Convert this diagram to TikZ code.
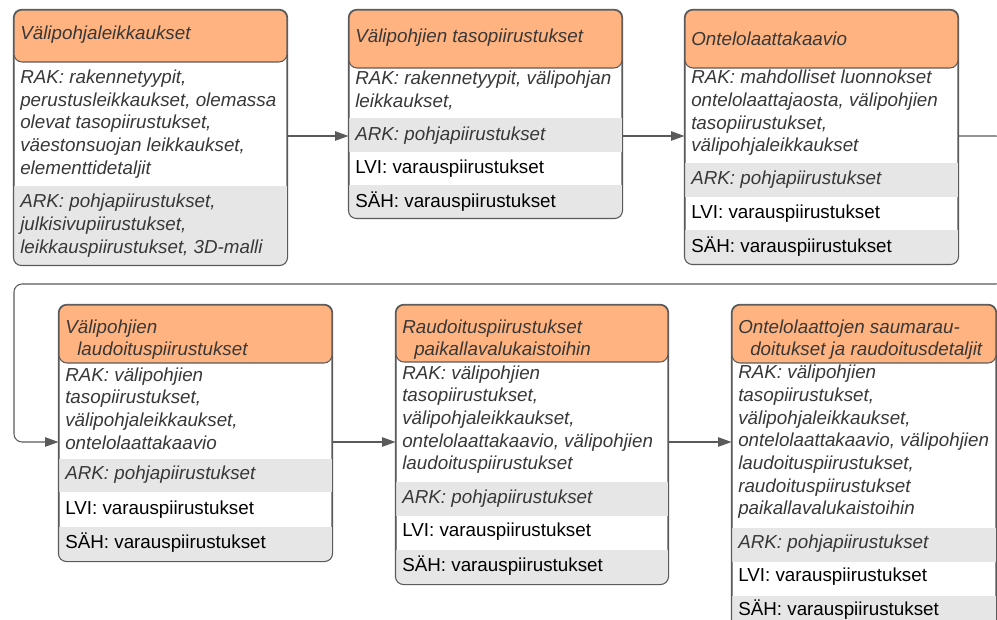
\documentclass[tikz,border=0pt]{standalone}
\usepackage{fontspec}
\setmainfont{Liberation Sans}
\usetikzlibrary{arrows.meta,fit}
\definecolor{orangeh}{HTML}{FFB380}
\definecolor{grayf}{HTML}{E6E6E6}
\definecolor{lineg}{HTML}{5A5A5A}
\definecolor{textg}{HTML}{383838}
\newcommand\txtsize{\fontsize{14.1pt}{17pt}\selectfont}
\tikzset{
  frame/.style={draw=lineg, line width=0.8pt, rounded corners=6pt, inner sep=0pt, fill=white},
  frameline/.style={draw=lineg, line width=0.8pt, rounded corners=6pt},
  hdr/.style={draw=lineg, line width=0.8pt, rounded corners=6pt, inner sep=0pt, fill=orangeh},
  sec/.style={fill=grayf},
  itx/.style={anchor=west, inner sep=0pt, yshift=-1.5pt, align=left, font=\txtsize\itshape, text=textg},
  ntx/.style={anchor=west, inner sep=0pt, yshift=-1.5pt, align=left, font=\txtsize, text=black},
  conn/.style={draw=lineg, line width=0.8pt, -{Triangle[length=10pt,width=7pt]}},
  route/.style={draw=lineg, line width=0.8pt, rounded corners=6pt, -{Triangle[length=10pt,width=7pt]}},
}
\begin{document}
\begin{tikzpicture}[x=0.75pt,y=-0.75pt]
\useasboundingbox (0,0) rectangle (997,620);
\clip (0,0) rectangle (997,620);
\fill[white] (0,0) rectangle (997,620);

% ---------- Box 1
\node[frame, fit={(14,10) (287,265)}] (b1) {};
\begin{scope}
  \clip[rounded corners=6pt] (b1.north west) rectangle (b1.south east);
  \fill[sec] (14,186) rectangle (287,265);
\end{scope}
\path[frameline] (b1.north west) rectangle (b1.south east);
\node[hdr, fit={(14,10) (287,62)}] (h1) {};
\node[itx] (h1t) at (20,33) {Välipohjaleikkaukset};
\node[itx] (b1r) at (20,122) {RAK: rakennetyypit,\\perustusleikkaukset, olemassa\\olevat tasopiirustukset,\\väestonsuojan leikkaukset,\\elementtidetaljit};
\node[itx] (b1a) at (20,223.5) {ARK: pohjapiirustukset,\\julkisivupiirustukset,\\leikkauspiirustukset, 3D-malli};

% ---------- Box 2
\node[frame, fit={(349,10) (622,218)}] (b2) {};
\begin{scope}
  \clip[rounded corners=6pt] (b2.north west) rectangle (b2.south east);
  \fill[sec] (349,118) rectangle (622,152);
  \fill[sec] (349,185) rectangle (622,218);
\end{scope}
\path[frameline] (b2.north west) rectangle (b2.south east);
\node[hdr, fit={(349,10) (622,68)}] (h2) {};
\node[itx] (h2t) at (355,36) {Välipohjien tasopiirustukset};
\node[itx] (b2r) at (355,88.5) {RAK: rakennetyypit, välipohjan\\leikkaukset,};
\node[itx] (b2a) at (355,134) {ARK: pohjapiirustukset};
\node[ntx] (b2l) at (355,167) {LVI: varauspiirustukset};
\node[ntx] (b2s) at (355,200) {SÄH: varauspiirustukset};

% ---------- Box 3
\node[frame, fit={(685,10) (958,264)}] (b3) {};
\begin{scope}
  \clip[rounded corners=6pt] (b3.north west) rectangle (b3.south east);
  \fill[sec] (685,163) rectangle (958,197);
  \fill[sec] (685,230) rectangle (958,264);
\end{scope}
\path[frameline] (b3.north west) rectangle (b3.south east);
\node[hdr, fit={(685,10) (958,68)}] (h3) {};
\node[itx] (h3t) at (691,37) {Ontelolaattakaavio};
\node[itx] (b3r) at (691,111) {RAK: mahdolliset luonnokset\\ontelolaattajaosta, välipohjien\\tasopiirustukset,\\välipohjaleikkaukset};
\node[itx] (b3a) at (691,178) {ARK: pohjapiirustukset};
\node[ntx] (b3l) at (691,212) {LVI: varauspiirustukset};
\node[ntx] (b3s) at (691,245) {SÄH: varauspiirustukset};

% ---------- Box 4
\node[frame, fit={(59,305) (332,561)}] (b4) {};
\begin{scope}
  \clip[rounded corners=6pt] (b4.north west) rectangle (b4.south east);
  \fill[sec] (59,459) rectangle (332,492);
  \fill[sec] (59,527) rectangle (332,561);
\end{scope}
\path[frameline] (b4.north west) rectangle (b4.south east);
\node[hdr, fit={(59,305) (332,363)}] (h4) {};
\node[itx] (h4t) at (65,337.5) {Välipohjien\\\hspace*{9pt}laudoituspiirustukset};
\node[itx] (b4r) at (65,406.5) {RAK: välipohjien\\tasopiirustukset,\\välipohjaleikkaukset,\\ontelolaattakaavio};
\node[itx] (b4a) at (65,473) {ARK: pohjapiirustukset};
\node[ntx] (b4l) at (65,508) {LVI: varauspiirustukset};
\node[ntx] (b4s) at (65,541) {SÄH: varauspiirustukset};

% ---------- Box 5
\node[frame, fit={(396,305) (668,584)}] (b5) {};
\begin{scope}
  \clip[rounded corners=6pt] (b5.north west) rectangle (b5.south east);
  \fill[sec] (396,482) rectangle (668,516);
  \fill[sec] (396,550) rectangle (668,584);
\end{scope}
\path[frameline] (b5.north west) rectangle (b5.south east);
\node[hdr, fit={(396,305) (668,362)}] (h5) {};
\node[itx] (h5t) at (402,337.5) {Raudoituspiirustukset\\\hspace*{9pt}paikallavalukaistoihin};
\node[itx] (b5r) at (402,417.5) {RAK: välipohjien\\tasopiirustukset,\\välipohjaleikkaukset,\\ontelolaattakaavio, välipohjien\\laudoituspiirustukset};
\node[itx] (b5a) at (402,497) {ARK: pohjapiirustukset};
\node[ntx] (b5l) at (402,530) {LVI: varauspiirustukset};
\node[ntx] (b5s) at (402,564) {SÄH: varauspiirustukset};

% ---------- Box 6
\node[frame, fit={(732,305) (996,630)}] (b6) {};
\begin{scope}
  \clip[rounded corners=6pt] (b6.north west) rectangle (b6.south east);
  \fill[sec] (732,528) rectangle (996,562);
  \fill[sec] (732,596) rectangle (996,630);
\end{scope}
\path[frameline] (b6.north west) rectangle (b6.south east);
\node[hdr, fit={(732,305) (996,363)}] (h6) {};
\node[itx] (h6t) at (738,337.5) {Ontelolaattojen saumarau-\\\hspace*{9pt}doitukset ja raudoitusdetaljit};
\node[itx] (b6r) at (738,440) {RAK: välipohjien\\tasopiirustukset,\\välipohjaleikkaukset,\\ontelolaattakaavio, välipohjien\\laudoituspiirustukset,\\raudoituspiirustukset\\paikallavalukaistoihin};
\node[itx] (b6a) at (738,542) {ARK: pohjapiirustukset};
\node[ntx] (b6l) at (738,575) {LVI: varauspiirustukset};
\node[ntx] (b6s) at (738,608) {SÄH: varauspiirustukset};

% ---------- Connectors
\coordinate (r1) at (0,136);
\coordinate (r2) at (0,442);
\coordinate (k1) at (1004,136);
\coordinate (k2) at (1004,284);
\coordinate (k3) at (14,284);
\coordinate (k4) at (14,442);
\draw[conn] (b1.east |- r1) -- (b2.west |- r1);
\draw[conn] (b2.east |- r1) -- (b3.west |- r1);
\draw[route] (b3.east |- r1) -- (k1) -- (k2) -- (k3) -- (k4) -- (b4.west |- r2);
\draw[conn] (b4.east |- r2) -- (b5.west |- r2);
\draw[conn] (b5.east |- r2) -- (b6.west |- r2);
\end{tikzpicture}
\end{document}
